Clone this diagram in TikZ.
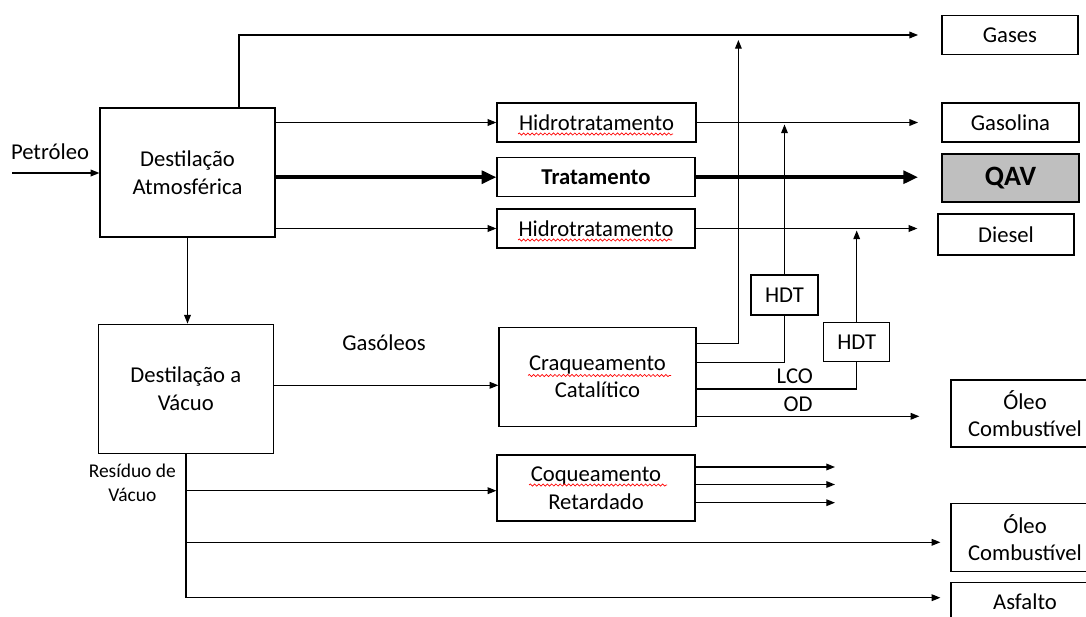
\documentclass[tikz,border=0pt]{standalone}
\usepackage{fontspec}
\setmainfont{Carlito}
\usetikzlibrary{arrows.meta,decorations.pathmorphing,calc}
\definecolor{qav}{HTML}{BFBFBF}
\tikzset{
  lbl/.style={font=\fontsize{17}{20.6}\selectfont, inner sep=0pt, align=center},
  box/.style={draw=black, line width=0.9pt, inner sep=0pt, align=center, font=\fontsize{17}{20.6}\selectfont},
  sz/.style 2 args={minimum width={#1*0.75pt}, minimum height={#2*0.75pt}},
  ln/.style={line width=0.9pt},
  arr/.style={line width=0.9pt, -{Triangle[length=6.5pt,width=5pt]}},
  thk/.style={line width=3.3pt, -{Triangle[length=11pt,width=9.5pt]}},
  sq/.style={red, line width=0.5pt, decorate, decoration={snake, amplitude=0.8pt, segment length=3.2pt}}
}
\begin{document}
\begin{tikzpicture}[x=0.75pt,y=-0.75pt]
\useasboundingbox (0,0) rectangle (1086,617);

% boxes
\node[box,sz={175}{129}] (DA) at (187.5,172.5) {Destilação\\Atmosférica};
\node[box,sz={175}{129}] (DV) at (185.8,388.7) {Destilação a\\Vácuo};
\node[box,sz={199}{39}] (H1) at (596.5,122.5) {Hidrotratamento};
\node[box,sz={198}{39},font=\fontsize{17}{20.6}\selectfont\bfseries] (TR) at (596,177.2) {Tratamento};
\node[box,sz={198}{39}] (H2) at (596,228.5) {Hidrotratamento};
\node[box,sz={197}{99}] (CC) at (597.5,376.7) {Craqueamento\\Catalítico};
\node[box,sz={198}{66}] (CR) at (596,488) {Coqueamento\\Retardado};
\node[box,sz={67}{40}] (T1) at (784.5,295) {HDT};
\node[box,sz={66}{39}] (T2) at (856.7,342.2) {HDT};
\node[box,sz={136}{39}] (Gs) at (1010,35) {Gases};
\node[box,sz={137}{39}] (Gl) at (1010.5,122.5) {Gasolina};
\node[box,sz={137}{48},fill=qav,font=\fontsize{21}{25}\selectfont\bfseries] (QAV) at (1010.5,178) {QAV};
\node[box,sz={136}{41}] (Ds) at (1006,234.5) {Diesel};
\node[box,sz={148}{67}] (O1) at (1025,413.5) {Óleo\\Combustível};
\node[box,sz={148}{68}] (O2) at (1025,537.5) {Óleo\\Combustível};
\node[box,sz={148}{39}] (As) at (1025,602) {Asfalto};

% labels
\node[lbl] (pet) at (50,152) {Petróleo};
\node[lbl] (gso) at (384,342.7) {Gasóleos};
\node[lbl] (lco) at (794.8,376) {LCO};
\node[lbl] (od) at (798,404) {OD};
\node[lbl,font=\fontsize{14.6}{18}\selectfont] (res) at (132.3,483) {Resíduo de\\Vácuo};

% spell-check squiggles
\draw[sq] (518,134) -- (673,134);
\draw[sq] (518,240) -- (672,240);
\draw[sq] (528,375.5) -- (671,375.5);
\draw[sq] (529,485) -- (667,485);

% connectors
\coordinate (pin) at (12,173);
\draw[arr] (pin) -- (pin -| DA.west);
\coordinate (gr) at (239,108);
\draw[arr,shorten >=17.5pt] (DA.north -| gr) |- (Gs.west);
\draw[arr] (DA.east |- H1.west) -- (H1.west);
\draw[arr,shorten >=17.5pt] (H1.east) -- (Gl.west);
\draw[thk] (DA.east |- TR.west) -- (TR.west);
\draw[thk,shorten >=17.5pt] (TR.east) -- (TR.east -| QAV.west);
\draw[arr] (DA.east |- H2.west) -- (H2.west);
\draw[arr,shorten >=15pt] (H2.east) -- (H2.east -| Ds.west);
\draw[arr] (DA.south) -- (DA.south |- DV.north);
\coordinate (gv) at (0,385.3);
\draw[arr] (DV.east |- gv) -- (CC.west |- gv);
\coordinate (c1) at (738.4,343.3);
\draw[arr,shorten >=3.75pt] (CC.east |- c1) -| (c1 |- Gs.west);
\coordinate (c2) at (0,362.3);
\draw[ln] (CC.east |- c2) -| (T1.south);
\draw[arr,shorten >=1.5pt] (T1.north) -- (T1.north |- H1.east);
\coordinate (c3) at (0,389);
\draw[ln] (CC.east |- c3) -| (T2.south);
\draw[arr,shorten >=1.5pt] (T2.north) -- (T2.north |- H2.east);
\coordinate (c4) at (0,416.3);
\draw[arr,shorten >=23.3pt] (CC.east |- c4) -- (O1.west |- c4);
% residue
\coordinate (rx) at (186,0);
\coordinate (r1) at (0,490.7);
\coordinate (r2) at (0,542.3);
\coordinate (r3) at (0,597.7);
\draw[arr,shorten >=7.5pt] (DV.south -| rx) |- (As.west |- r3);
\draw[arr] (rx |- r1) -- (CR.west |- r1);
\draw[arr,shorten >=7.5pt] (rx |- r2) -- (O2.west |- r2);
% coking outputs
\coordinate (ce) at (835,0);
\coordinate (k1) at (0,467);
\coordinate (k2) at (0,484.5);
\coordinate (k3) at (0,502.7);
\draw[arr] (CR.east |- k1) -- (ce |- k1);
\draw[arr] (CR.east |- k2) -- (ce |- k2);
\draw[arr] (CR.east |- k3) -- (ce |- k3);
\end{tikzpicture}
\end{document}
